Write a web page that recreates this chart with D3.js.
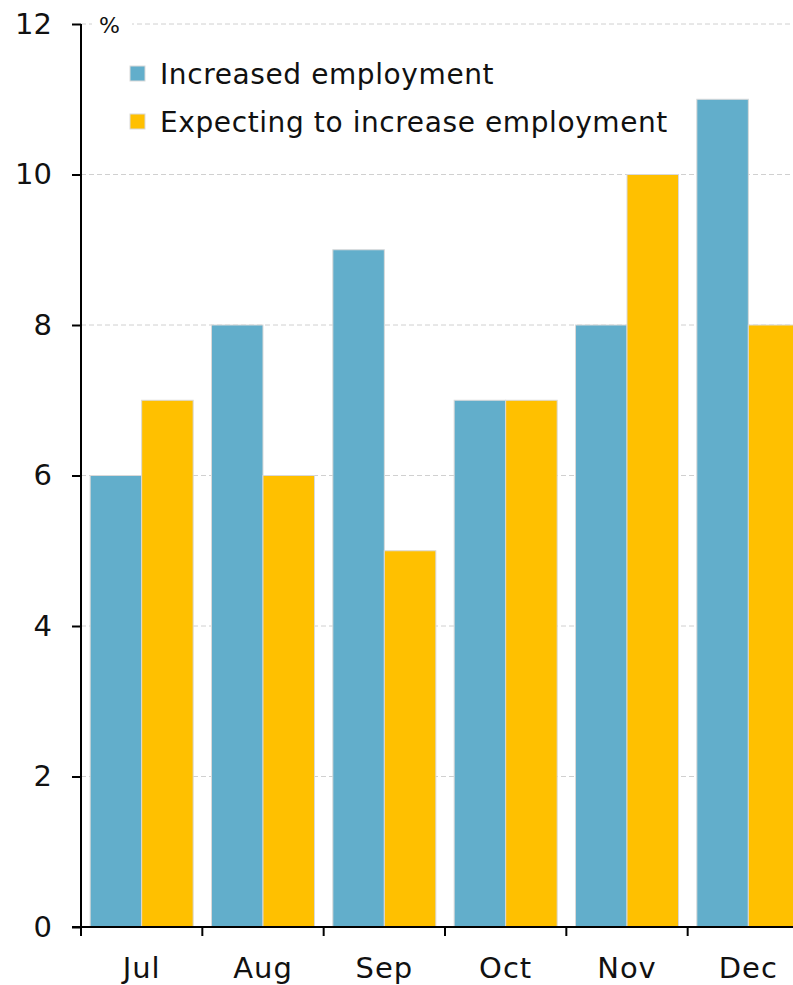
<!DOCTYPE html>
<html><head><meta charset="utf-8">
<script src="https://cdn.jsdelivr.net/npm/d3@7"></script>
<style>html,body{margin:0;padding:0;background:#fff;}svg{display:block;}</style>
</head><body><div id="chart"></div>
<script>
const categories = ["Jul","Aug","Sep","Oct","Nov","Dec"];
const increased = [6,8,9,7,8,11];
const expecting = [7,6,5,7,10,8];
const seriesNames = ["Increased employment","Expecting to increase employment"];
const yTicks = [0,2,4,6,8,10,12];

const W=793,H=985;
const colors=["#62AECB","#FFC000"];
const font="'DejaVu Sans', sans-serif";
const svg=d3.select("#chart").append("svg").attr("width",W).attr("height",H);

const x0=d3.scaleBand().domain(categories).range([81,809]).paddingInner(0).paddingOuter(0);
const x1=d3.scaleBand().domain([0,1]).range([0,x0.bandwidth()]).paddingOuter(0.178).paddingInner(0);
const y=d3.scaleLinear().domain([0,12]).range([927,24]);

// grid
svg.append("g").selectAll("line").data(yTicks.filter(d=>d>0)).join("line")
 .attr("x1",81).attr("x2",W).attr("y1",d=>y(d)).attr("y2",d=>y(d))
 .attr("stroke","#d0d0d0").attr("stroke-width",1).attr("stroke-dasharray","5,3");

// % label
svg.append("rect").attr("x",92).attr("y",10).attr("width",40).attr("height",28).attr("fill","#fff");
svg.append("text").attr("x",99).attr("y",y(12)+9).text("%").attr("font-family",font).attr("font-size",22).attr("fill","#111");

// bars
const data=categories.map((c,i)=>({c,v:[increased[i],expecting[i]]}));
const g=svg.append("g").selectAll("g").data(data).join("g").attr("transform",d=>`translate(${x0(d.c)},0)`);
g.selectAll("rect").data(d=>d.v.map((v,k)=>({v,k}))).join("rect")
 .attr("x",d=>x1(d.k)).attr("width",x1.bandwidth())
 .attr("y",d=>y(d.v)).attr("height",d=>y(0)-y(d.v))
 .attr("fill",d=>colors[d.k]).attr("stroke","#d9d9d9").attr("stroke-width",1);

// y axis
const ya=svg.append("g").attr("transform","translate(81,0)").call(d3.axisLeft(y).tickValues(yTicks).tickSize(9).tickPadding(20));
ya.select(".domain").attr("stroke","#000").attr("stroke-width",2).attr("d","M0,24V927");
ya.selectAll(".tick line").attr("stroke","#000").attr("stroke-width",2);
ya.selectAll("text").attr("font-family",font).attr("font-size",29).attr("fill","#111");

// x axis
const xa=svg.append("g").attr("transform","translate(0,927)");
xa.append("line").attr("x1",72).attr("x2",W).attr("y1",0).attr("y2",0).attr("stroke","#000").attr("stroke-width",2);
xa.selectAll("line.t").data(categories).join("line").attr("class","t")
 .attr("x1",d=>x0(d)).attr("x2",d=>x0(d)).attr("y1",0).attr("y2",9).attr("stroke","#000").attr("stroke-width",2);
xa.selectAll("text").data(categories).join("text")
 .attr("x",d=>x0(d)+x0.bandwidth()/2).attr("y",51).attr("text-anchor","middle")
 .text(d=>d).attr("font-family",font).attr("font-size",29).attr("letter-spacing",1).attr("fill","#111");

// legend
const lg=svg.append("g");
seriesNames.forEach((n,i)=>{
  lg.append("rect").attr("x",130).attr("y",66+i*48).attr("width",15).attr("height",15).attr("fill",colors[i]).attr("stroke","#d9d9d9");
  lg.append("text").attr("x",160).attr("y",84+i*48).text(n).attr("font-family",font).attr("font-size",28).attr("letter-spacing",0.6).attr("fill","#111");
});
</script></body></html>
